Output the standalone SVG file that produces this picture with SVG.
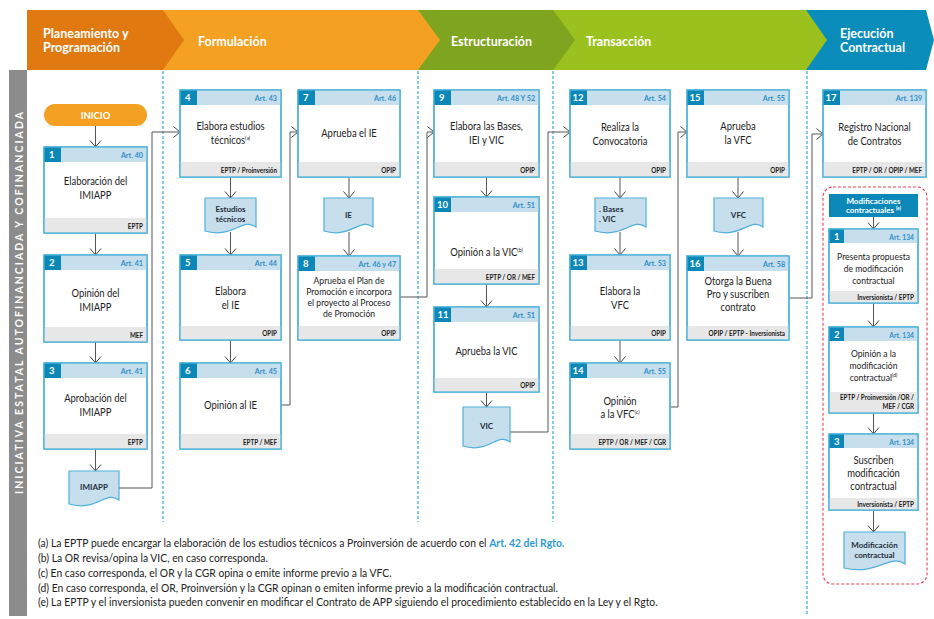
<svg xmlns="http://www.w3.org/2000/svg" width="934" height="619" viewBox="0 0 934 619">
  <defs>
    <marker id="ah" markerUnits="userSpaceOnUse" viewBox="-8 -7 9 14" markerWidth="9" markerHeight="14" refX="0" refY="0" orient="auto">
      <path d="M-6.5,-5.5 L0,0 L-6.5,5.5" fill="none" stroke="#444" stroke-width="1"/>
    </marker>
    <style>
      .lane { stroke: #3BA9D9; stroke-width: 1.2; stroke-dasharray: 3 2; fill: none; }
      .frame { fill: #fff; stroke: #4EB1D9; stroke-width: 1.3; }
      .band { fill: #C7DEED; }
      .sq { fill: #0B88B8; }
      .foot { fill: #E7E7E7; }
      .edge { fill: none; stroke: #4EB1D9; stroke-width: 1.3; }
      .num { font-family: Lato, "Liberation Sans", sans-serif; font-weight: bold; font-size: 9.5px; fill: #fff; }
      .art { font-family: Lato, "Liberation Sans", sans-serif; font-weight: bold; font-size: 8px; fill: #2F8FC8; text-anchor: end; transform-box: fill-box; transform-origin: 100% 50%; transform: scaleX(0.9); }
      .who { font-family: Lato, "Liberation Sans", sans-serif; font-weight: bold; font-size: 7px; fill: #1a1a1a; text-anchor: end; transform-box: fill-box; transform-origin: 100% 50%; transform: scaleX(0.9); }
      .bt { font-family: Lato, "Liberation Sans", sans-serif; font-size: 11px; fill: #222; text-anchor: middle; transform-box: fill-box; transform-origin: 50% 50%; transform: scaleX(0.86); }
      .bs { font-size: 10px; }
      .sup { font-size: 6px; }
      .doc { fill: #C7DEED; stroke: #4EB1D9; stroke-width: 1.2; }
      .dt { font-family: Lato, "Liberation Sans", sans-serif; font-weight: bold; font-size: 8px; fill: #1f2d3a; text-anchor: middle; }
      .dl { text-anchor: start; }
      .dw { fill: #fff; }
      .ph { font-family: Lato, "Liberation Sans", sans-serif; font-weight: bold; font-size: 12.5px; fill: #fff; }
      .wire { fill: none; stroke: #555; stroke-width: 1; }
      .note { font-family: Lato, "Liberation Sans", sans-serif; font-size: 11.5px; fill: #222; transform-box: fill-box; transform-origin: 0 50%; transform: scaleX(0.9); }
    </style>
  </defs>

  <!-- phase banner (drawn right to left so each arrow tip overlaps the next band) -->
  <g id="phases">
    <polygon points="806,10 926,10 934,40 926,70 806,70" fill="#0A8DBA"/>
    <polygon points="553,10 806,10 827,40 806,70 553,70" fill="#9BC11F"/>
    <polygon points="418,10 553,10 575,40 553,70 418,70" fill="#7FA41F"/>
    <polygon points="163,10 418,10 440,40 418,70 163,70" fill="#F4A023"/>
    <polygon points="27,10 163,10 184,40 163,70 27,70" fill="#E07A10"/>
    <text class="ph" x="43" y="38">Planeamiento y</text>
    <text class="ph" x="43" y="52">Programación</text>
    <text class="ph" x="198" y="46">Formulación</text>
    <text class="ph" x="451" y="46">Estructuración</text>
    <text class="ph" x="586" y="46">Transacción</text>
    <text class="ph" x="840" y="38">Ejecución</text>
    <text class="ph" x="840" y="52">Contractual</text>
  </g>

  <!-- side label -->
  <g id="side">
    <rect x="9" y="70" width="18" height="546" fill="#8C8C8C"/>
    <text transform="translate(22.5,303) rotate(-90)" text-anchor="middle" font-family="Lato, 'Liberation Sans', sans-serif" font-weight="bold" font-size="10.5" fill="#fff" textLength="382" lengthAdjust="spacing">INICIATIVA ESTATAL AUTOFINANCIADA Y COFINANCIADA</text>
  </g>

  <!-- lane separators -->
  <g id="lanes">
    <line class="lane" x1="163" y1="71" x2="163" y2="522"/>
    <line class="lane" x1="418" y1="71" x2="418" y2="522"/>
    <line class="lane" x1="553" y1="71" x2="553" y2="522"/>
    <line class="lane" x1="807" y1="71" x2="807" y2="616"/>
  </g>

  <!-- connectors -->
  <g id="connectors">
    <path class="wire" d="M95.5,126 V147" marker-end="url(#ah)"/>
    <path class="wire" d="M95.5,233 V255" marker-end="url(#ah)"/>
    <path class="wire" d="M95.5,342 V363" marker-end="url(#ah)"/>
    <path class="wire" d="M95.5,449 V471" marker-end="url(#ah)"/>
    <path class="wire" d="M119,488 H152 V132 H180" marker-end="url(#ah)"/>

    <path class="wire" d="M230.5,177 V198" marker-end="url(#ah)"/>
    <path class="wire" d="M230.5,232 V255" marker-end="url(#ah)"/>
    <path class="wire" d="M230.5,340 V363" marker-end="url(#ah)"/>
    <path class="wire" d="M281,405 H290 V132 H298" marker-end="url(#ah)"/>

    <path class="wire" d="M349,177 V198" marker-end="url(#ah)"/>
    <path class="wire" d="M349,232 V256" marker-end="url(#ah)"/>
    <path class="wire" d="M400,297 H427 V132 H434" marker-end="url(#ah)"/>

    <path class="wire" d="M486.5,177 V197" marker-end="url(#ah)"/>
    <path class="wire" d="M486.5,284 V307" marker-end="url(#ah)"/>
    <path class="wire" d="M486.5,392 V407" marker-end="url(#ah)"/>
    <path class="wire" d="M510,432 H548 V132 H570" marker-end="url(#ah)"/>

    <path class="wire" d="M620,177 V198" marker-end="url(#ah)"/>
    <path class="wire" d="M620,232 V255" marker-end="url(#ah)"/>
    <path class="wire" d="M620,340 V363" marker-end="url(#ah)"/>
    <path class="wire" d="M670,407 H678 V132 H687" marker-end="url(#ah)"/>

    <path class="wire" d="M738,177 V198" marker-end="url(#ah)"/>
    <path class="wire" d="M738,232 V256" marker-end="url(#ah)"/>
    <path class="wire" d="M789,298 H812 V134 H823" marker-end="url(#ah)"/>

    <path class="wire" d="M873.5,217 V229" marker-end="url(#ah)"/>
    <path class="wire" d="M873.5,303 V327" marker-end="url(#ah)"/>
    <path class="wire" d="M873.5,413 V434" marker-end="url(#ah)"/>
    <path class="wire" d="M873.5,510 V532" marker-end="url(#ah)"/>
  </g>

  <!-- start -->
  <g id="inicio">
    <rect x="44" y="104" width="103" height="22" rx="11" fill="#F4A023"/>
    <text x="95.5" y="118.5" text-anchor="middle" font-family="Lato, 'Liberation Sans', sans-serif" font-weight="bold" font-size="9.5" fill="#fff">INICIO</text>
  </g>

  <!-- Planeamiento y Programación -->
  <g id="n1">
    <rect class="frame" x="44" y="147" width="103" height="86"/>
    <rect class="band" x="44" y="147" width="103" height="15"/>
    <rect class="sq" x="44" y="147" width="17" height="15"/>
    <rect class="foot" x="44" y="218" width="103" height="15"/>
    <rect class="edge" x="44" y="147" width="103" height="86"/>
    <text class="num" x="49" y="158">1</text>
    <text class="art" x="143" y="158">Art. 40</text>
    <text class="bt" x="95.5" y="185">Elaboración del</text>
    <text class="bt" x="95.5" y="199">IMIAPP</text>
    <text class="who" x="143" y="229">EPTP</text>
  </g>
  <g id="n2">
    <rect class="frame" x="44" y="255" width="103" height="87"/>
    <rect class="band" x="44" y="255" width="103" height="15"/>
    <rect class="sq" x="44" y="255" width="17" height="15"/>
    <rect class="foot" x="44" y="327" width="103" height="15"/>
    <rect class="edge" x="44" y="255" width="103" height="87"/>
    <text class="num" x="49" y="266">2</text>
    <text class="art" x="143" y="266">Art. 41</text>
    <text class="bt" x="95.5" y="297">Opinión del</text>
    <text class="bt" x="95.5" y="311">IMIAPP</text>
    <text class="who" x="143" y="338">MEF</text>
  </g>
  <g id="n3">
    <rect class="frame" x="44" y="363" width="103" height="86"/>
    <rect class="band" x="44" y="363" width="103" height="15"/>
    <rect class="sq" x="44" y="363" width="17" height="15"/>
    <rect class="foot" x="44" y="434" width="103" height="15"/>
    <rect class="edge" x="44" y="363" width="103" height="86"/>
    <text class="num" x="49" y="374">3</text>
    <text class="art" x="143" y="374">Art. 41</text>
    <text class="bt" x="95.5" y="402">Aprobación del</text>
    <text class="bt" x="95.5" y="416">IMIAPP</text>
    <text class="who" x="143" y="445">EPTP</text>
  </g>
  <g id="d-imiapp">
    <path class="doc" d="M69,471 H119 V500 C106,490 96,512 69,504 Z"/>
    <text class="dt" x="94" y="490">IMIAPP</text>
  </g>

  <!-- Formulación -->
  <g id="n4">
    <rect class="frame" x="180" y="90" width="101" height="87"/>
    <rect class="band" x="180" y="90" width="101" height="15"/>
    <rect class="sq" x="180" y="90" width="17" height="15"/>
    <rect class="foot" x="180" y="162" width="101" height="15"/>
    <rect class="edge" x="180" y="90" width="101" height="87"/>
    <text class="num" x="185" y="101">4</text>
    <text class="art" x="277" y="101">Art. 43</text>
    <text class="bt" x="230.5" y="130">Elabora estudios</text>
    <text class="bt" x="230.5" y="144">técnicos<tspan class="sup" dy="-4">(a)</tspan></text>
    <text class="who" x="277" y="173">EPTP / Proinversión</text>
  </g>
  <g id="d-estudios">
    <path class="doc" d="M205,198 H256 V227 C243,217 232,239 205,231 Z"/>
    <text class="dt" x="230.5" y="212">Estudios</text>
    <text class="dt" x="230.5" y="222">técnicos</text>
  </g>
  <g id="n5">
    <rect class="frame" x="180" y="255" width="101" height="85"/>
    <rect class="band" x="180" y="255" width="101" height="15"/>
    <rect class="sq" x="180" y="255" width="17" height="15"/>
    <rect class="foot" x="180" y="326" width="101" height="14"/>
    <rect class="edge" x="180" y="255" width="101" height="85"/>
    <text class="num" x="185" y="266">5</text>
    <text class="art" x="277" y="266">Art. 44</text>
    <text class="bt" x="230.5" y="295">Elabora</text>
    <text class="bt" x="230.5" y="309">el IE</text>
    <text class="who" x="277" y="336">OPIP</text>
  </g>
  <g id="n6">
    <rect class="frame" x="180" y="363" width="101" height="86"/>
    <rect class="band" x="180" y="363" width="101" height="15"/>
    <rect class="sq" x="180" y="363" width="17" height="15"/>
    <rect class="foot" x="180" y="434" width="101" height="15"/>
    <rect class="edge" x="180" y="363" width="101" height="86"/>
    <text class="num" x="185" y="374">6</text>
    <text class="art" x="277" y="374">Art. 45</text>
    <text class="bt" x="230.5" y="409">Opinión al IE</text>
    <text class="who" x="277" y="445">EPTP / MEF</text>
  </g>

  <g id="n7">
    <rect class="frame" x="298" y="90" width="102" height="87"/>
    <rect class="band" x="298" y="90" width="102" height="15"/>
    <rect class="sq" x="298" y="90" width="17" height="15"/>
    <rect class="foot" x="298" y="162" width="102" height="15"/>
    <rect class="edge" x="298" y="90" width="102" height="87"/>
    <text class="num" x="303" y="101">7</text>
    <text class="art" x="396" y="101">Art. 46</text>
    <text class="bt" x="349" y="137">Aprueba el IE</text>
    <text class="who" x="396" y="173">OPIP</text>
  </g>
  <g id="d-ie">
    <path class="doc" d="M324,198 H373 V227 C361,217 350,239 324,231 Z"/>
    <text class="dt" x="348.5" y="218">IE</text>
  </g>
  <g id="n8">
    <rect class="frame" x="298" y="256" width="102" height="84"/>
    <rect class="band" x="298" y="256" width="102" height="15"/>
    <rect class="sq" x="298" y="256" width="17" height="15"/>
    <rect class="foot" x="298" y="326" width="102" height="14"/>
    <rect class="edge" x="298" y="256" width="102" height="84"/>
    <text class="num" x="303" y="267">8</text>
    <text class="art" x="396" y="267">Art. 46 y 47</text>
    <text class="bt bs" x="349" y="284">Aprueba el Plan de</text>
    <text class="bt bs" x="349" y="295">Promoción e incorpora</text>
    <text class="bt bs" x="349" y="306">el proyecto al Proceso</text>
    <text class="bt bs" x="349" y="317">de Promoción</text>
    <text class="who" x="396" y="336">OPIP</text>
  </g>

  <!-- Estructuración -->
  <g id="n9">
    <rect class="frame" x="434" y="90" width="105" height="87"/>
    <rect class="band" x="434" y="90" width="105" height="15"/>
    <rect class="sq" x="434" y="90" width="17" height="15"/>
    <rect class="foot" x="434" y="162" width="105" height="15"/>
    <rect class="edge" x="434" y="90" width="105" height="87"/>
    <text class="num" x="439" y="101">9</text>
    <text class="art" x="535" y="101">Art. 48 Y 52</text>
    <text class="bt" x="486.5" y="130">Elabora las Bases,</text>
    <text class="bt" x="486.5" y="144">IEI y VIC</text>
    <text class="who" x="535" y="173">OPIP</text>
  </g>
  <g id="n10">
    <rect class="frame" x="434" y="197" width="105" height="87"/>
    <rect class="band" x="434" y="197" width="105" height="15"/>
    <rect class="sq" x="434" y="197" width="17" height="15"/>
    <rect class="foot" x="434" y="269" width="105" height="15"/>
    <rect class="edge" x="434" y="197" width="105" height="87"/>
    <text class="num" x="437" y="208">10</text>
    <text class="art" x="535" y="208">Art. 51</text>
    <text class="bt" x="486.5" y="256">Opinión a la VIC<tspan class="sup" dy="-4">(b)</tspan></text>
    <text class="who" x="535" y="280">EPTP / OR / MEF</text>
  </g>
  <g id="n11">
    <rect class="frame" x="434" y="307" width="105" height="85"/>
    <rect class="band" x="434" y="307" width="105" height="15"/>
    <rect class="sq" x="434" y="307" width="17" height="15"/>
    <rect class="foot" x="434" y="378" width="105" height="14"/>
    <rect class="edge" x="434" y="307" width="105" height="85"/>
    <text class="num" x="437.5" y="318">11</text>
    <text class="art" x="535" y="318">Art. 51</text>
    <text class="bt" x="486.5" y="355">Aprueba la VIC</text>
    <text class="who" x="535" y="388">OPIP</text>
  </g>
  <g id="d-vic">
    <path class="doc" d="M463,407 H510 V442 C498,432 488,454 463,446 Z"/>
    <text class="dt" x="486.5" y="429">VIC</text>
  </g>

  <!-- Transacción -->
  <g id="n12">
    <rect class="frame" x="570" y="90" width="100" height="87"/>
    <rect class="band" x="570" y="90" width="100" height="15"/>
    <rect class="sq" x="570" y="90" width="17" height="15"/>
    <rect class="foot" x="570" y="162" width="100" height="15"/>
    <rect class="edge" x="570" y="90" width="100" height="87"/>
    <text class="num" x="572.5" y="101">12</text>
    <text class="art" x="666" y="101">Art. 54</text>
    <text class="bt" x="620" y="131">Realiza la</text>
    <text class="bt" x="620" y="145">Convocatoria</text>
    <text class="who" x="666" y="173">OPIP</text>
  </g>
  <g id="d-bases">
    <path class="doc" d="M595,198 H646 V227 C633,217 622,239 595,231 Z"/>
    <text class="dt dl" x="599" y="212">. Bases</text>
    <text class="dt dl" x="599" y="222">. VIC</text>
  </g>
  <g id="n13">
    <rect class="frame" x="570" y="255" width="100" height="85"/>
    <rect class="band" x="570" y="255" width="100" height="15"/>
    <rect class="sq" x="570" y="255" width="17" height="15"/>
    <rect class="foot" x="570" y="326" width="100" height="14"/>
    <rect class="edge" x="570" y="255" width="100" height="85"/>
    <text class="num" x="572.5" y="266">13</text>
    <text class="art" x="666" y="266">Art. 53</text>
    <text class="bt" x="620" y="295">Elabora la</text>
    <text class="bt" x="620" y="309">VFC</text>
    <text class="who" x="666" y="336">OPIP</text>
  </g>
  <g id="n14">
    <rect class="frame" x="570" y="363" width="100" height="86"/>
    <rect class="band" x="570" y="363" width="100" height="15"/>
    <rect class="sq" x="570" y="363" width="17" height="15"/>
    <rect class="foot" x="570" y="434" width="100" height="15"/>
    <rect class="edge" x="570" y="363" width="100" height="86"/>
    <text class="num" x="572.5" y="374">14</text>
    <text class="art" x="666" y="374">Art. 55</text>
    <text class="bt" x="620" y="405">Opinión</text>
    <text class="bt" x="620" y="418">a la VFC<tspan class="sup" dy="-4">(c)</tspan></text>
    <text class="who" x="666" y="445">EPTP / OR / MEF / CGR</text>
  </g>

  <g id="n15">
    <rect class="frame" x="687" y="90" width="102" height="87"/>
    <rect class="band" x="687" y="90" width="102" height="15"/>
    <rect class="sq" x="687" y="90" width="17" height="15"/>
    <rect class="foot" x="687" y="162" width="102" height="15"/>
    <rect class="edge" x="687" y="90" width="102" height="87"/>
    <text class="num" x="689.5" y="101">15</text>
    <text class="art" x="785" y="101">Art. 55</text>
    <text class="bt" x="738" y="130">Aprueba</text>
    <text class="bt" x="738" y="144">la VFC</text>
    <text class="who" x="785" y="173">OPIP</text>
  </g>
  <g id="d-vfc">
    <path class="doc" d="M714,198 H763 V227 C751,217 740,239 714,231 Z"/>
    <text class="dt" x="738.5" y="218">VFC</text>
  </g>
  <g id="n16">
    <rect class="frame" x="687" y="256" width="102" height="84"/>
    <rect class="band" x="687" y="256" width="102" height="15"/>
    <rect class="sq" x="687" y="256" width="17" height="15"/>
    <rect class="foot" x="687" y="326" width="102" height="14"/>
    <rect class="edge" x="687" y="256" width="102" height="84"/>
    <text class="num" x="689.5" y="267">16</text>
    <text class="art" x="785" y="267">Art. 58</text>
    <text class="bt" x="738" y="285">Otorga la Buena</text>
    <text class="bt" x="738" y="298">Pro y suscriben</text>
    <text class="bt" x="738" y="311">contrato</text>
    <text class="who" x="785" y="336">OPIP / EPTP - Inversionista</text>
  </g>

  <!-- Ejecución Contractual -->
  <g id="n17">
    <rect class="frame" x="823" y="90" width="103" height="87"/>
    <rect class="band" x="823" y="90" width="103" height="15"/>
    <rect class="sq" x="823" y="90" width="17" height="15"/>
    <rect class="foot" x="823" y="162" width="103" height="15"/>
    <rect class="edge" x="823" y="90" width="103" height="87"/>
    <text class="num" x="825.5" y="101">17</text>
    <text class="art" x="922" y="101">Art. 139</text>
    <text class="bt" x="874.5" y="131">Registro Nacional</text>
    <text class="bt" x="874.5" y="145">de Contratos</text>
    <text class="who" x="922" y="173">EPTP / OR / OPIP / MEF</text>
  </g>

  <g id="modificaciones">
    <rect x="823" y="187" width="104" height="397" rx="10" fill="none" stroke="#E8415A" stroke-width="1.1" stroke-dasharray="3 2"/>
    <rect x="829" y="194" width="89" height="23" fill="#0B88B8"/>
    <text class="dt dw" x="873.5" y="204">Modificaciones</text>
    <text class="dt dw" x="873.5" y="213">contractuales <tspan font-size="5" dy="-3">(e)</tspan></text>
  </g>
  <g id="m1">
    <rect class="frame" x="829" y="229" width="89" height="74"/>
    <rect class="band" x="829" y="229" width="89" height="14"/>
    <rect class="sq" x="829" y="229" width="15" height="14"/>
    <rect class="foot" x="829" y="291" width="89" height="12"/>
    <rect class="edge" x="829" y="229" width="89" height="74"/>
    <text class="num" x="834" y="240">1</text>
    <text class="art" x="914" y="240" style="font-size:7.5px">Art. 134</text>
    <text class="bt bs" x="873.5" y="260">Presenta propuesta</text>
    <text class="bt bs" x="873.5" y="272">de modificación</text>
    <text class="bt bs" x="873.5" y="284">contractual</text>
    <text class="who" x="914" y="300">Inversionista / EPTP</text>
  </g>
  <g id="m2">
    <rect class="frame" x="829" y="327" width="89" height="86"/>
    <rect class="band" x="829" y="327" width="89" height="14"/>
    <rect class="sq" x="829" y="327" width="15" height="14"/>
    <rect class="foot" x="829" y="392" width="89" height="21"/>
    <rect class="edge" x="829" y="327" width="89" height="86"/>
    <text class="num" x="834" y="338">2</text>
    <text class="art" x="914" y="338" style="font-size:7.5px">Art. 134</text>
    <text class="bt bs" x="873.5" y="357">Opinión a la</text>
    <text class="bt bs" x="873.5" y="369">modificación</text>
    <text class="bt bs" x="873.5" y="381">contractual<tspan class="sup" dy="-4">(d)</tspan></text>
    <text class="who" x="914" y="400">EPTP / Proinversión /OR /</text>
    <text class="who" x="914" y="409">MEF / CGR</text>
  </g>
  <g id="m3">
    <rect class="frame" x="829" y="434" width="89" height="76"/>
    <rect class="band" x="829" y="434" width="89" height="14"/>
    <rect class="sq" x="829" y="434" width="15" height="14"/>
    <rect class="foot" x="829" y="498" width="89" height="12"/>
    <rect class="edge" x="829" y="434" width="89" height="76"/>
    <text class="num" x="834" y="445">3</text>
    <text class="art" x="914" y="445" style="font-size:7.5px">Art. 134</text>
    <text class="bt" x="873.5" y="464">Suscriben</text>
    <text class="bt" x="873.5" y="477">modificación</text>
    <text class="bt" x="873.5" y="490">contractual</text>
    <text class="who" x="914" y="507">Inversionista / EPTP</text>
  </g>
  <g id="d-modif">
    <path class="doc" d="M844,532 H905 V564 C890,553 877,576 844,568 Z"/>
    <text class="dt" x="874.5" y="548">Modificación</text>
    <text class="dt" x="874.5" y="558">contractual</text>
  </g>

  <!-- notes -->
  <g id="notes">
    <text class="note" x="38" y="547">(a) La EPTP puede encargar la elaboración de los estudios técnicos a Proinversión de acuerdo con el <tspan fill="#2F9BD3" font-weight="bold">Art. 42 del Rgto.</tspan></text>
    <text class="note" x="38" y="562">(b) La OR revisa/opina la VIC, en caso corresponda.</text>
    <text class="note" x="38" y="577">(c) En caso corresponda, el OR y la CGR opina o emite informe previo a la VFC.</text>
    <text class="note" x="38" y="592">(d) En caso corresponda, el OR, Proinversión y la CGR opinan o emiten informe previo a la modificación contractual.</text>
    <text class="note" x="38" y="606">(e) La EPTP y el inversionista pueden convenir en modificar el  Contrato de APP siguiendo el procedimiento establecido en la Ley y el Rgto.</text>
  </g>
</svg>
